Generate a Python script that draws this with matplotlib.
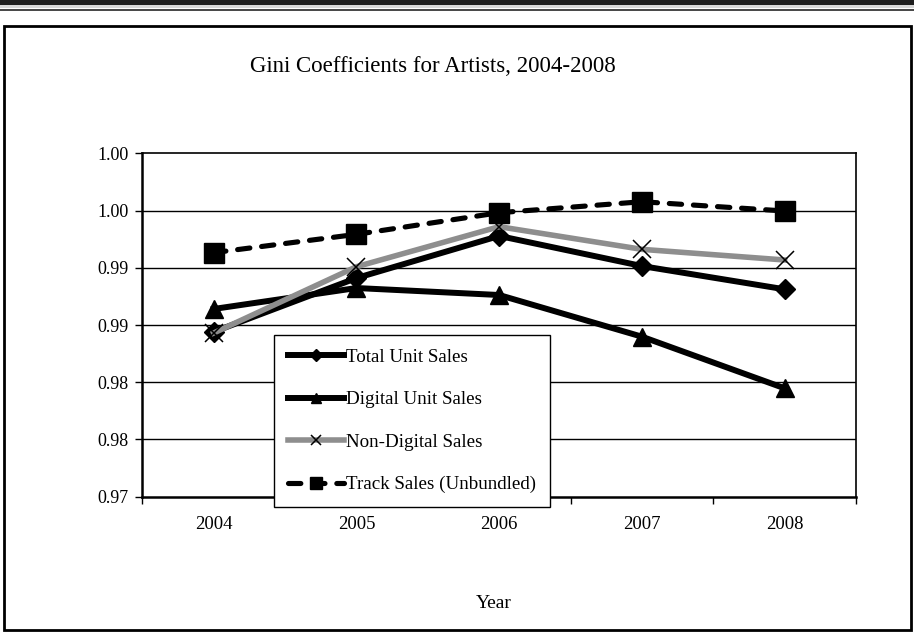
import matplotlib
matplotlib.use("Agg")
import matplotlib.pyplot as plt
from matplotlib.patches import Rectangle

plt.rcParams['font.family'] = ['Liberation Serif', 'DejaVu Serif']

years = ['2004', '2005', '2006', '2007', '2008']
total_unit = [0.9844, 0.9891, 0.99278, 0.99015, 0.98812]
digital_unit = [0.9864, 0.98823, 0.98762, 0.98398, 0.97947]
non_digital = [0.9843, 0.99009, 0.99359, 0.99161, 0.99068]
track_sales = [0.99132, 0.99292, 0.99481, 0.99577, 0.99496]

y_ticks = [0.970, 0.975, 0.980, 0.985, 0.990, 0.995, 1.000]
y_tick_labels = ['0.97', '0.98', '0.98', '0.99', '0.99', '1.00', '1.00']

W, H = 914, 634
fig = plt.figure(figsize=(W / 100, H / 100), dpi=100)

# page decorations: heavy rule, thin rule and framed panel
fig.patches.append(Rectangle((0, 1 - 5 / H), 1, 5 / H, transform=fig.transFigure,
                             facecolor='#1e1e1e', edgecolor='none'))
fig.patches.append(Rectangle((0, 1 - 8 / H), 1, 3 / H, transform=fig.transFigure,
                             facecolor='#d8d8d8', edgecolor='none'))
fig.patches.append(Rectangle((0, 1 - 11 / H), 1, 2.5 / H, transform=fig.transFigure,
                             facecolor='#4a4a4a', edgecolor='none'))
fig.patches.append(Rectangle((4 / W, 4 / H), 907 / W, 604 / H, transform=fig.transFigure,
                             facecolor='none', edgecolor='black', linewidth=2.0))

ax = fig.add_axes([142.3 / W, (H - 496.7) / H, (856 - 142.3) / W, (496.7 - 153.3) / H])
x = list(range(len(years)))

ax.plot(x, total_unit, color='black', linewidth=4.3, marker='D', markersize=10,
        label='Total Unit Sales', zorder=4)
ax.plot(x, digital_unit, color='black', linewidth=4.3, marker='^', markersize=13,
        label='Digital Unit Sales', zorder=4)
ax.plot(x, non_digital, color='#8e8e8e', linewidth=4.0, marker='x', markersize=13,
        markeredgecolor='black', markeredgewidth=1.1,
        label='Non-Digital Sales', zorder=5)
ax.plot(x, track_sales, color='black', linewidth=3.7, marker='s', markersize=14,
        dashes=(2.4, 2.3), dash_capstyle='round',
        label='Track Sales (Unbundled)', zorder=6)

ax.set_xlim(-0.5, len(years) - 0.5)
ax.set_ylim(0.970, 1.000)
ax.set_yticks(y_ticks)
ax.set_yticklabels(y_tick_labels)
ax.set_xticks(x)
ax.set_xticklabels(years)
ax.set_xticks([i + 0.5 for i in range(-1, len(years))], minor=True)
ax.tick_params(axis='x', which='major', length=0, pad=14, labelsize=13.5)
ax.tick_params(axis='x', which='minor', length=5, width=1, direction='out')
ax.tick_params(axis='y', length=5, width=1, direction='out', pad=5, labelsize=13)

for yv in y_ticks[1:-1]:
    ax.axhline(yv, color='black', linewidth=1.0, zorder=1)
for side in ['left', 'bottom']:
    ax.spines[side].set_linewidth(1.8)
for side in ['top', 'right']:
    ax.spines[side].set_linewidth(1.2)

fig.text(433 / W, 1 - 66 / H, 'Gini Coefficients for Artists, 2004-2008',
         ha='center', va='center', fontsize=16.5)
fig.text(494 / W, 1 - 604 / H, 'Year', ha='center', va='center', fontsize=14)

leg = ax.legend(loc='upper left', bbox_to_anchor=(274 / W, (H - 335) / H),
                bbox_transform=fig.transFigure, frameon=True, fancybox=False,
                edgecolor='black', framealpha=1, fontsize=13.7, handlelength=2.95,
                handletextpad=0.12, labelspacing=1.32, borderpad=0.72,
                borderaxespad=0, markerscale=0.6)
leg.get_frame().set_linewidth(1.0)
leg.set_zorder(10)

fig.savefig('out.png', dpi=100)
